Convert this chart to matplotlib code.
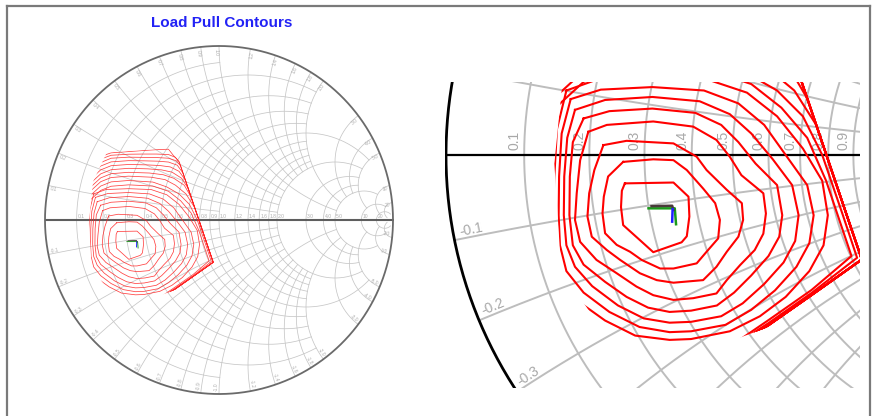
import numpy as np
import matplotlib
matplotlib.use("Agg")
import matplotlib.pyplot as plt
from matplotlib.patches import Polygon
from matplotlib.lines import Line2D

plt.rcParams['font.family'] = ['Liberation Sans', 'DejaVu Sans']

TITLE = "Load Pull Contours"

# Smith chart grid: normalized resistance circles and reactance arcs,
# each drawn only up to the stated extent (max |x| for r-circles, max r for x-arcs)
R_GRID = [0.1, 0.2, 0.3, 0.4, 0.5, 0.6, 0.7, 0.8, 0.9, 1.0,
          1.2, 1.4, 1.6, 1.8, 2.0, 3.0, 4.0, 5.0, 10, 20]
R_EXTENT = [1, 2, 1, 2, 1, 2, 1, 2, 1, 5,
            2, 2, 2, 2, 5, 5, 5, 10, 20, 50]
R_LABELS = ["0.1", "0.2", "0.3", "0.4", "0.5", "0.6", "0.7", "0.8", "0.9", "1.0",
            "1.2", "1.4", "1.6", "1.8", "2.0", "3.0", "4.0", "5.0", "10", "20"]

X_GRID = [0.1, 0.2, 0.3, 0.4, 0.5, 0.6, 0.7, 0.8, 0.9, 1.0,
          1.2, 1.4, 1.6, 1.8, 2.0, 3.0, 4.0, 5.0, 10, 20]
X_EXTENT = [1, 2, 1, 2, 1, 2, 1, 2, 1, 5,
            2, 2, 2, 2, 5, 5, 5, 10, 20, 50]
X_LABELS = R_LABELS

# Measured load region (reflection coefficient plane)
LOAD_REGION = [(-0.645, 0.388), (-0.29, 0.412), (-0.226, 0.338), (-0.028, -0.245),
               (-0.25, -0.40), (-0.39, -0.452), (-0.60, -0.458), (-0.732, -0.27),
               (-0.748, -0.02), (-0.724, 0.22)]

# Load pull contours, innermost first (gamma_r, gamma_i)
c01 = [(-0.584, -0.066), (-0.471, -0.064), (-0.436, -0.097), (-0.434, -0.143), (-0.440, -0.189),
       (-0.452, -0.203), (-0.518, -0.226), (-0.549, -0.198), (-0.588, -0.163), (-0.593, -0.121),
       (-0.591, -0.083)]
c02 = [(-0.588, -0.016), (-0.518, -0.010), (-0.471, -0.012), (-0.440, -0.035), (-0.402, -0.078),
       (-0.374, -0.112), (-0.363, -0.151), (-0.367, -0.194), (-0.394, -0.225), (-0.417, -0.252),
       (-0.471, -0.264), (-0.502, -0.264), (-0.545, -0.244), (-0.572, -0.225), (-0.603, -0.209),
       (-0.630, -0.182), (-0.636, -0.136), (-0.633, -0.097), (-0.623, -0.050)]
c03 = [(-0.634, 0.023), (-0.580, 0.033), (-0.471, 0.027), (-0.417, -0.004), (-0.394, -0.035),
       (-0.347, -0.081), (-0.312, -0.112), (-0.309, -0.151), (-0.320, -0.190), (-0.347, -0.225),
       (-0.371, -0.260), (-0.402, -0.291), (-0.471, -0.297), (-0.510, -0.291), (-0.549, -0.275),
       (-0.595, -0.244), (-0.626, -0.221), (-0.661, -0.190), (-0.671, -0.143), (-0.667, -0.089),
       (-0.655, -0.035)]
c04 = [(-0.669, 0.054), (-0.626, 0.070), (-0.518, 0.078), (-0.425, 0.066), (-0.371, 0.035),
       (-0.340, -0.004), (-0.313, -0.047), (-0.262, -0.089), (-0.256, -0.136), (-0.262, -0.183),
       (-0.282, -0.221), (-0.316, -0.256), (-0.347, -0.291), (-0.371, -0.322), (-0.425, -0.333),
       (-0.471, -0.337), (-0.518, -0.326), (-0.557, -0.306), (-0.603, -0.275), (-0.650, -0.244),
       (-0.688, -0.202), (-0.700, -0.151), (-0.696, -0.089), (-0.688, -0.012)]
c05 = [(-0.68, 0.085), (-0.62, 0.102), (-0.52, 0.108), (-0.42, 0.098), (-0.36, 0.07), (-0.32, 0.03),
       (-0.28, -0.02), (-0.23, -0.07), (-0.218, -0.14), (-0.225, -0.19), (-0.25, -0.235), (-0.29, -0.28),
       (-0.33, -0.32), (-0.37, -0.35), (-0.43, -0.362), (-0.48, -0.365), (-0.53, -0.355), (-0.58, -0.33),
       (-0.63, -0.295), (-0.68, -0.255), (-0.705, -0.21), (-0.713, -0.14), (-0.712, -0.05), (-0.705, 0.03)]
c06 = [(-0.70, 0.105), (-0.63, 0.128), (-0.52, 0.135), (-0.41, 0.125), (-0.34, 0.095), (-0.29, 0.05),
       (-0.24, -0.01), (-0.195, -0.07), (-0.18, -0.14), (-0.188, -0.20), (-0.215, -0.25), (-0.26, -0.30),
       (-0.31, -0.345), (-0.36, -0.375), (-0.43, -0.388), (-0.48, -0.39), (-0.54, -0.38), (-0.60, -0.35),
       (-0.66, -0.305), (-0.70, -0.26), (-0.72, -0.21), (-0.726, -0.14), (-0.725, -0.05), (-0.718, 0.04)]
c07 = [(-0.71, 0.13), (-0.64, 0.152), (-0.52, 0.158), (-0.40, 0.15), (-0.32, 0.12), (-0.26, 0.07),
       (-0.21, 0.0), (-0.16, -0.07), (-0.145, -0.14), (-0.155, -0.205), (-0.185, -0.26), (-0.235, -0.315),
       (-0.29, -0.36), (-0.35, -0.395), (-0.43, -0.41), (-0.48, -0.412), (-0.55, -0.40), (-0.62, -0.365),
       (-0.68, -0.32), (-0.72, -0.27), (-0.735, -0.21), (-0.738, -0.14), (-0.737, -0.05), (-0.731, 0.05)]
c08 = [(-0.72, 0.15), (-0.65, 0.175), (-0.52, 0.18), (-0.39, 0.175), (-0.30, 0.145), (-0.23, 0.09),
       (-0.17, 0.015), (-0.125, -0.06), (-0.112, -0.14), (-0.122, -0.21), (-0.155, -0.27), (-0.21, -0.33),
       (-0.27, -0.375), (-0.34, -0.41), (-0.43, -0.428), (-0.48, -0.43), (-0.56, -0.42), (-0.63, -0.385),
       (-0.70, -0.335), (-0.74, -0.28), (-0.748, -0.21), (-0.75, -0.14), (-0.748, -0.05), (-0.742, 0.06)]
c09 = [(-0.84, -0.35), (-0.66, -0.54), (-0.42, -0.50), (-0.25, -0.384), (-0.15, -0.314), (-0.057, -0.235),
       (-0.089, -0.14), (-0.116, -0.06), (-0.16, 0.04), (-0.22, 0.11), (-0.29, 0.165), (-0.38, 0.195),
       (-0.52, 0.202), (-0.62, 0.194), (-0.68, 0.17), (-0.74, 0.115), (-0.84, -0.05)]
c10 = [(-0.84, -0.35), (-0.66, -0.54), (-0.42, -0.50), (-0.25, -0.391), (-0.15, -0.321), (-0.044, -0.239),
       (-0.077, -0.14), (-0.125, 0.0), (-0.17, 0.09), (-0.23, 0.15), (-0.30, 0.19), (-0.38, 0.218),
       (-0.52, 0.227), (-0.62, 0.219), (-0.68, 0.195), (-0.74, 0.14), (-0.84, -0.02)]
c11 = [(-0.84, -0.35), (-0.66, -0.54), (-0.42, -0.50), (-0.25, -0.396), (-0.15, -0.326), (-0.033, -0.243),
       (-0.068, -0.14), (-0.139, 0.07), (-0.19, 0.15), (-0.25, 0.20), (-0.31, 0.232), (-0.39, 0.246),
       (-0.52, 0.252), (-0.62, 0.244), (-0.68, 0.22), (-0.74, 0.165), (-0.84, 0.0)]
c12 = [(-0.84, -0.35), (-0.66, -0.54), (-0.42, -0.50), (-0.25, -0.396), (-0.15, -0.326), (-0.033, -0.243),
       (-0.068, -0.14), (-0.159, 0.13), (-0.20, 0.20), (-0.26, 0.24), (-0.32, 0.26), (-0.40, 0.27),
       (-0.52, 0.274), (-0.62, 0.266), (-0.68, 0.242), (-0.74, 0.187), (-0.84, 0.02)]
c13 = [(-0.84, -0.35), (-0.66, -0.54), (-0.42, -0.50), (-0.25, -0.396), (-0.15, -0.326), (-0.033, -0.243),
       (-0.068, -0.14), (-0.176, 0.18), (-0.215, 0.24), (-0.27, 0.275), (-0.33, 0.288), (-0.41, 0.294),
       (-0.52, 0.297), (-0.62, 0.289), (-0.68, 0.265), (-0.74, 0.21), (-0.84, 0.045)]
c14 = [(-0.84, -0.35), (-0.66, -0.54), (-0.42, -0.50), (-0.25, -0.396), (-0.15, -0.326), (-0.033, -0.243),
       (-0.068, -0.14), (-0.193, 0.23), (-0.23, 0.28), (-0.28, 0.305), (-0.34, 0.313), (-0.42, 0.317),
       (-0.52, 0.319), (-0.62, 0.312), (-0.68, 0.288), (-0.74, 0.233), (-0.84, 0.07)]
c15 = [(-0.84, -0.35), (-0.66, -0.54), (-0.42, -0.50), (-0.25, -0.396), (-0.15, -0.326), (-0.033, -0.243),
       (-0.068, -0.14), (-0.207, 0.27), (-0.24, 0.315), (-0.29, 0.333), (-0.35, 0.338), (-0.43, 0.34),
       (-0.52, 0.341), (-0.62, 0.334), (-0.68, 0.31), (-0.74, 0.255), (-0.84, 0.09)]
c16 = [(-0.84, -0.35), (-0.66, -0.54), (-0.42, -0.50), (-0.25, -0.396), (-0.15, -0.326), (-0.033, -0.243),
       (-0.068, -0.14), (-0.220, 0.31), (-0.245, 0.34), (-0.29, 0.355), (-0.36, 0.359), (-0.44, 0.36),
       (-0.52, 0.361), (-0.62, 0.355), (-0.68, 0.33), (-0.74, 0.275), (-0.84, 0.11)]
c17 = [(-0.84, -0.35), (-0.66, -0.54), (-0.42, -0.50), (-0.25, -0.396), (-0.15, -0.326), (-0.033, -0.243),
       (-0.068, -0.14), (-0.227, 0.33), (-0.25, 0.36), (-0.29, 0.376), (-0.36, 0.379), (-0.44, 0.379),
       (-0.52, 0.378), (-0.62, 0.372), (-0.68, 0.35), (-0.74, 0.295), (-0.84, 0.13)]
c18 = [(-0.84, -0.35), (-0.66, -0.54), (-0.42, -0.50), (-0.25, -0.396), (-0.15, -0.326), (-0.033, -0.243),
       (-0.068, -0.14), (-0.229, 0.336), (-0.263, 0.372), (-0.29, 0.407), (-0.36, 0.404), (-0.44, 0.399),
       (-0.52, 0.393), (-0.62, 0.386), (-0.68, 0.365), (-0.74, 0.31), (-0.84, 0.15)]
CONTOURS = [c01, c02, c03, c04, c05, c06, c07, c08, c09,
            c10, c11, c12, c13, c14, c15, c16, c17, c18]

# Optimum-load markers (one short trace per swept quantity)
opt_dark = [(-0.522, -0.119), (-0.474, -0.118), (-0.471, -0.128)]
opt_green = [(-0.529, -0.124), (-0.468, -0.124), (-0.465, -0.161)]
opt_blue = [(-0.473, -0.126), (-0.474, -0.155)]


def r_circle(r, xmax):
    th = np.linspace(-np.arctan(xmax), np.arctan(xmax), 500)
    z = r + 1j * np.tan(th)
    return (z - 1) / (z + 1)


def x_arc(x, rmax):
    u = np.linspace(0, rmax / (1 + rmax), 500)
    z = u / (1 - u) + 1j * x
    return (z - 1) / (z + 1)


def norm_deg(d):
    d = (d + 180) % 360 - 180
    if d > 90:
        d -= 180
    if d < -90:
        d += 180
    return d


def draw_chart(ax, grid_col, axis_col, rim_col, txt_col, grid_lw, axis_lw, rim_lw,
               cont_lw, cont_col, cont_alpha, fs, r_lab_rot):
    x0, x1 = ax.get_xlim()
    y0, y1 = ax.get_ylim()

    def inside(px, py, m=0.012):
        return x0 - m <= px <= x1 + m and y0 - m <= py <= y1 + m

    # grid
    for r, xm in zip(R_GRID, R_EXTENT):
        g = r_circle(r, xm)
        ax.plot(g.real, g.imag, color=grid_col, lw=grid_lw, zorder=1)
    for x, rm in zip(X_GRID, X_EXTENT):
        for s in (1, -1):
            g = x_arc(s * x, rm)
            ax.plot(g.real, g.imag, color=grid_col, lw=grid_lw, zorder=1)
    # real axis and rim
    ax.plot([-1, 1], [0, 0], color=axis_col, lw=axis_lw, zorder=3, solid_capstyle='butt')
    t = np.linspace(0, 2 * np.pi, 720)
    ax.plot(np.cos(t), np.sin(t), color=rim_col, lw=rim_lw, zorder=3)

    # resistance labels along the real axis
    for r, lab in zip(R_GRID, R_LABELS):
        gr = (r - 1) / (r + 1)
        if r_lab_rot:
            px, py = gr - 0.006, 0.012
            if not inside(px, py, 0.0):
                continue
            ax.text(px, py, lab, rotation=90, rotation_mode='anchor',
                    ha='left', va='bottom', fontsize=fs, color=txt_col, zorder=2)
        else:
            px, py = gr + 0.006, 0.008
            if not inside(px, py, 0.0):
                continue
            ax.text(px, py, lab, ha='left', va='bottom', fontsize=fs,
                    color=txt_col, zorder=2)
    # reactance labels just inside the rim
    for x, lab in zip(X_GRID, X_LABELS):
        for s in (1, -1):
            g = (1j * s * x - 1) / (1j * s * x + 1)
            th = np.angle(g)
            inward = th + np.pi
            px, py = 0.985 * np.cos(th), 0.985 * np.sin(th)
            if not inside(px, py):
                continue
            if np.cos(inward) >= -1e-9:
                rot = norm_deg(np.degrees(inward))
                ha = 'left'
            else:
                rot = norm_deg(np.degrees(th))
                ha = 'right'
            va = 'bottom' if s < 0 else 'top'
            txt = lab if s > 0 else '-' + lab
            ax.text(px, py, txt, rotation=rot, rotation_mode='anchor', ha=ha, va=va,
                    fontsize=fs, color=txt_col, zorder=2)

    # contours, clipped to the measured region
    region = Polygon(LOAD_REGION, closed=True, transform=ax.transData)
    for c in CONTOURS:
        pts = np.array(c + [c[0]])
        ln, = ax.plot(pts[:, 0], pts[:, 1], color=cont_col, lw=cont_lw, alpha=cont_alpha,
                      zorder=4, solid_joinstyle='round')
        ln.set_clip_path(region)

    # optimum markers
    for tr, col in ((opt_green, '#1a9a1a'), (opt_dark, '#4a3a3a'), (opt_blue, '#2020ff')):
        a = np.array(tr)
        ax.plot(a[:, 0], a[:, 1], color=col, lw=cont_lw * 1.2, zorder=5)


W, H = 878, 416
fig = plt.figure(figsize=(W / 100, H / 100), dpi=100)

# full Smith chart
ax1 = fig.add_axes([40 / W, (H - 399) / H, 358 / W, 358 / H])
ax1.set_xlim(-1.0287, 1.0287)
ax1.set_ylim(-1.0287, 1.0287)
ax1.axis('off')
draw_chart(ax1, '#c6c6c6', '#5e5e5e', '#6a6a6a', '#b0b0b0', 0.55, 1.5, 1.3,
           0.55, '#ff2020', 0.85, 3.6, False)

# zoomed view around the optimum
ax2 = fig.add_axes([445 / W, (H - 388) / H, 415 / W, 306 / H])
ax2.set_xlim(-1.0023, -0.0372)
ax2.set_ylim(-0.5419, 0.1698)
ax2.axis('off')
draw_chart(ax2, '#bdbdbd', '#000000', '#000000', '#a8a8a8', 1.4, 1.6, 2.0,
           1.5, '#ff0000', 1.0, 10, True)

fig.text(222 / W, (H - 23) / H, TITLE, color='#2222f5', fontsize=11, fontweight='bold',
         ha='center', va='center')

# window frame
frame_col = '#7a7a7a'
fig.add_artist(Line2D([7 / W, 7 / W], [0, (H - 6) / H], color=frame_col, lw=1.6))
fig.add_artist(Line2D([7 / W, 870 / W], [(H - 6) / H, (H - 6) / H], color=frame_col, lw=1.6))
fig.add_artist(Line2D([870 / W, 870 / W], [0, (H - 6) / H], color=frame_col, lw=1.6))

fig.savefig("out.png", dpi=100, facecolor='white')
